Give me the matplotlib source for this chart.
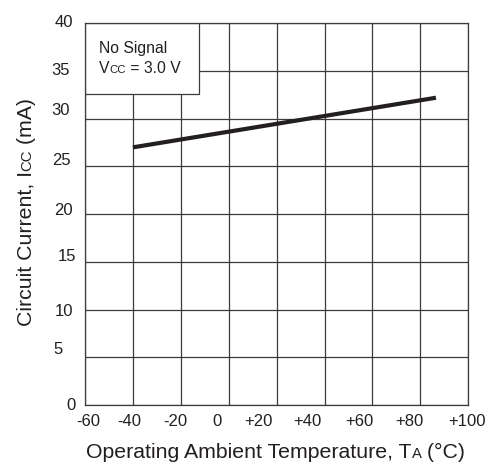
import matplotlib
matplotlib.use('Agg')
import matplotlib.pyplot as plt
from matplotlib.transforms import ScaledTranslation
from matplotlib.patches import Rectangle

plt.rcParams['font.family'] = ['Liberation Sans', 'DejaVu Sans']

# Icc vs ambient temperature (no signal, Vcc = 3.0 V)
temp_c = [-40, 86.5]
icc_ma = [27.0, 32.2]

x_ticks = [-60, -40, -20, 0, 20, 40, 60, 80, 100]
x_tick_labels = ['-60', '-40', '-20', '0', '+20', '+40', '+60', '+80', '+100']
y_ticks = [0, 5, 10, 15, 20, 25, 30, 35, 40]
y_tick_labels = ['0', '5', '10', '15', '20', '25', '30', '35', '40']

# hand-placed label nudges in pixels
x_nudge = [3, -4, -6, -12, -18, -17, -13, -11, -1]
y_nudge_dx = [2.3, -10.4, 0, 3, 0, -2, -3.4, -3.7, 0]
y_nudge_dy = [1, 9, 0, 6.6, 5, 7.7, 10, 1.7, 2.5]

ink = '#231f20'
grid_col = '#3c3c3c'
W, H = 491, 466


def fx(px):
    return px / W


def fy(py):
    return 1 - py / H


def chain_text(fig, pieces, x, y, rotation=0):
    # pieces of (text, size); small pieces sit on the big text's baseline
    big = pieces[0][1]
    if rotation == 0:
        t = fig.text(x, y, pieces[0][0], size=big, color=ink, ha='left', va='bottom')
    else:
        t = fig.text(x, y, pieces[0][0], size=big, color=ink, rotation=90, ha='right', va='bottom')
    prev_size = big
    for s, size in pieces[1:]:
        shift = 0.212 * (prev_size - size)
        if rotation == 0:
            t = fig.axes[0].annotate(s, xy=(1, 0), xycoords=t, xytext=(0, shift),
                                     textcoords='offset points', size=size, color=ink,
                                     ha='left', va='bottom', annotation_clip=False)
        else:
            t = fig.axes[0].annotate(s, xy=(1, 1), xycoords=t, xytext=(-shift, 0),
                                     textcoords='offset points', size=size, color=ink,
                                     rotation=90, ha='right', va='bottom', annotation_clip=False)
        prev_size = size
    return t


fig = plt.figure(figsize=(W / 100, H / 100), dpi=100)
ax = fig.add_axes([fx(85), fy(405), (468.3 - 85) / W, (405 - 23.3) / H])

ax.plot(temp_c, icc_ma, color=ink, lw=3, solid_capstyle='butt', zorder=3)

ax.set_xlim(-60, 100)
ax.set_ylim(0, 40)
ax.set_xticks(x_ticks, x_tick_labels)
ax.set_yticks(y_ticks, y_tick_labels)
ax.grid(True, color=grid_col, lw=0.9)
ax.set_axisbelow(True)
for sp in ax.spines.values():
    sp.set_color(grid_col)
    sp.set_linewidth(0.9)
ax.tick_params(length=0, labelsize=12, labelcolor=ink)
ax.tick_params(axis='x', pad=6.5)
ax.tick_params(axis='y', pad=8.5)

for lbl, dx in zip(ax.get_xticklabels(), x_nudge):
    lbl.set_transform(lbl.get_transform() + ScaledTranslation(dx / 100, 0, fig.dpi_scale_trans))
for lbl, dx, dy in zip(ax.get_yticklabels(), y_nudge_dx, y_nudge_dy):
    lbl.set_transform(lbl.get_transform() + ScaledTranslation(dx / 100, dy / 100, fig.dpi_scale_trans))

# condition box in the upper-left corner
ax.add_patch(Rectangle((-60, 32.57), 47.7, 7.43, facecolor='white', edgecolor=grid_col,
                       lw=0.9, zorder=2))
fig.text(fx(99), fy(49), 'No Signal', size=11.3, color=ink, ha='left', va='center')
chain_text(fig, [('V', 11.3), ('CC', 8.2), (' = 3.0 V', 11.3)], fx(99), fy(76))

# axis titles
chain_text(fig, [('Operating Ambient Temperature, T', 15.3), ('A', 10.7), (' (°C)', 15.3)],
           fx(86), fy(462))
chain_text(fig, [('Circuit Current, I', 15.3), ('CC', 10.7), (' (mA)', 15.3)],
           fx(36), fy(326), rotation=90)

fig.savefig('out.png', dpi=100)
